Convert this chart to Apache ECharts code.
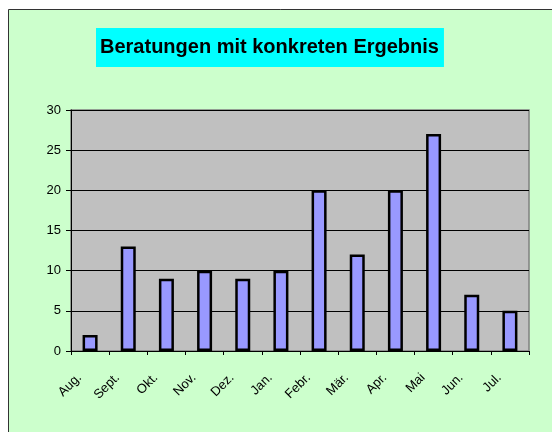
<!DOCTYPE html>
<html>
<head>
<meta charset="utf-8">
<title>Beratungen mit konkreten Ergebnis</title>
<script src="https://cdn.jsdelivr.net/npm/echarts@6/dist/echarts.min.js"></script>
<style>
	html, body { margin: 0; padding: 0; background: #fff; }
	#main { width: 552px; height: 432px; }
</style>
</head>
<body>
<div id="main"></div>
<script>
	// Monate und Werte
	var months = ['Aug.', 'Sept.', 'Okt.', 'Nov.', 'Dez.', 'Jan.', 'Febr.', 'Mär.', 'Apr.', 'Mai', 'Jun.', 'Jul.'];
	var values = [2, 13, 9, 10, 9, 10, 20, 12, 20, 27, 7, 5];
	var yTicks = [0, 5, 10, 15, 20, 25, 30];

	var chart = echarts.init(document.getElementById('main'));
	var option = {
		backgroundColor: '#ffffff',
		animation: false,
		graphic: [
			{
				type: 'rect',
				z: -10,
				shape: { x: 8.5, y: 9.5, width: 560, height: 440 },
				style: { fill: '#CCFFCC', stroke: '#333333', lineWidth: 1 }
			}
		],
		title: {
			text: 'Beratungen mit konkreten Ergebnis',
			left: 96,
			top: 28,
			backgroundColor: '#00FFFF',
			padding: [9, 5, 10, 4],
			textStyle: {
				fontFamily: 'Liberation Sans, Arial, sans-serif',
				fontWeight: 'bold',
				fontSize: 20,
				color: '#000'
			}
		},
		grid: {
			left: 71,
			top: 110,
			right: 23,
			bottom: 81,
			show: true,
			backgroundColor: '#C0C0C0',
			borderColor: '#808080',
			borderWidth: 1.5
		},
		xAxis: {
			type: 'category',
			data: months,
			axisLine: { show: true, lineStyle: { color: '#000', width: 1 } },
			axisTick: { show: true, length: 4, lineStyle: { color: '#000' } },
			axisLabel: {
				rotate: 45,
				interval: 0,
				margin: 14,
				padding: [0, 15, 0, 0],
				fontFamily: 'Liberation Sans, Arial, sans-serif',
				fontSize: 13,
				color: '#000'
			}
		},
		yAxis: {
			type: 'value',
			min: yTicks[0],
			max: yTicks[yTicks.length - 1],
			interval: 5,
			axisLine: { show: true, lineStyle: { color: '#000', width: 1 } },
			axisTick: { show: true, inside: false, length: 5, lineStyle: { color: '#000' } },
			splitLine: { show: true, lineStyle: { color: '#000', width: 1 } },
			axisLabel: {
				margin: 10,
				fontFamily: 'Liberation Sans, Arial, sans-serif',
				fontSize: 13,
				color: '#000'
			}
		},
		series: [
			{
				type: 'bar',
				data: values,
				barWidth: 15,
				itemStyle: {
					color: '#9999FF',
					borderColor: '#000',
					borderWidth: 2.5
				}
			}
		]
	};
	chart.setOption(option);
</script>
</body>
</html>
